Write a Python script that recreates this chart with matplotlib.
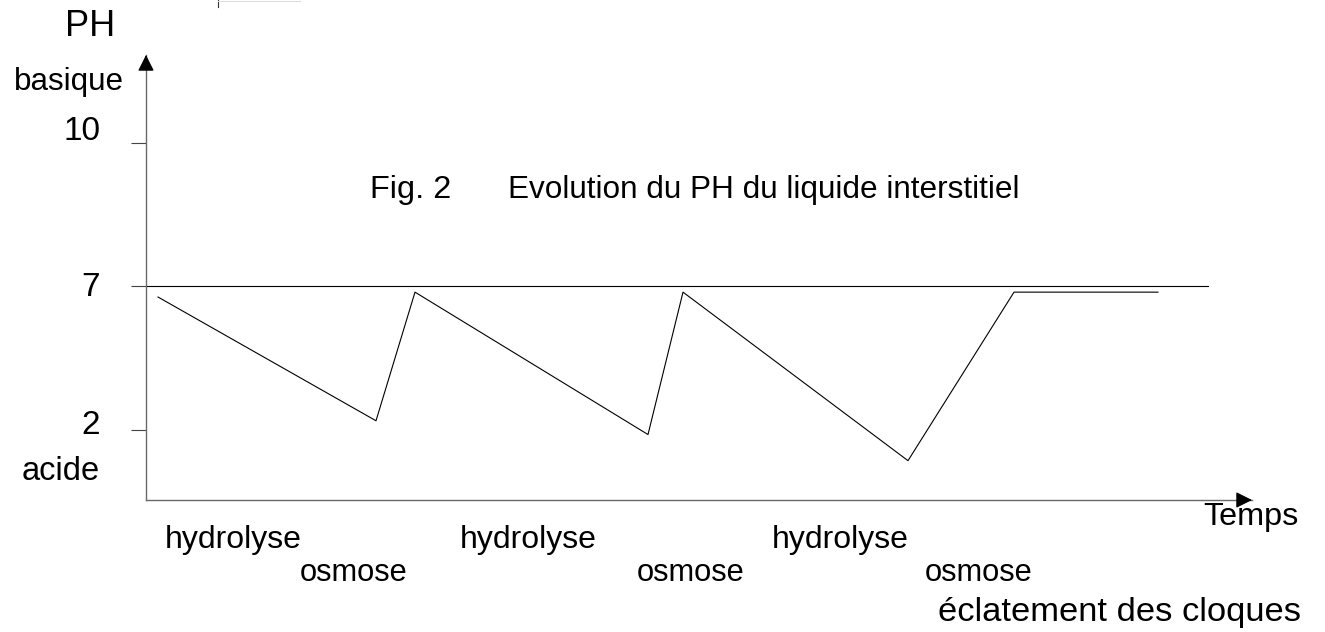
import numpy as np
import matplotlib.pyplot as plt
from matplotlib.lines import Line2D

# data (time in arbitrary units, pH values)
temps = [0.12, 2.30, 2.69, 5.02, 5.37, 7.62, 8.68, 10.12]
ph = [6.62, 2.31, 6.79, 1.83, 6.79, 0.92, 6.79, 6.79]
ph_ticks = [2, 7, 10]
ph_tick_labels = ['2', '7', '10']
phases = ['hydrolyse', 'osmose', 'hydrolyse', 'osmose', 'hydrolyse', 'osmose']
neutre = 7

W, H = 1325, 632
plt.rcParams['font.family'] = ['Liberation Sans', 'DejaVu Sans']

fig = plt.figure(figsize=(W / 100, H / 100), dpi=100)
ax = fig.add_axes([146 / W, (H - 500) / H, (1252 - 146) / W, (500 - 55) / H])


# the drawing stretches pH above 7 (10 sits as far from 7 as 2 does)
def fwd(v):
    return np.interp(v, [-50, 7, 10, 50], [-50, 7, 12, 12 + 40 * 5 / 3])


def inv(v):
    return np.interp(v, [-50, 7, 12, 12 + 40 * 5 / 3], [-50, 7, 10, 50])


ax.set_yscale('function', functions=(fwd, inv))
ax.set_xlim(0, 11.06)
ax.set_ylim(-0.45, 11.83)

for s in ax.spines.values():
    s.set_visible(False)
for side in ['left', 'bottom']:
    ax.spines[side].set_visible(True)
    ax.spines[side].set_color('#6a6a6a')
    ax.spines[side].set_linewidth(1.0)
ax.set_xticks([])
ax.set_yticks(ph_ticks)
ax.set_yticklabels([])
ax.tick_params(axis='y', length=11, width=0.8, color='#444444', direction='out')
ax.patch.set_alpha(0)

# arrow heads
ax.annotate('', xy=(0, 1.0), xytext=(0, 0.97), xycoords='axes fraction',
            arrowprops=dict(arrowstyle='-|>', color='black', lw=0.8,
                            mutation_scale=25, shrinkA=0, shrinkB=0))
ax.annotate('', xy=(1.0, 0), xytext=(0.99, 0), xycoords='axes fraction',
            arrowprops=dict(arrowstyle='-|>', color='black', lw=0.8,
                            mutation_scale=25, shrinkA=0, shrinkB=0))

# neutral line and pH curve
ax.plot([0, 10.62], [neutre, neutre], color='black', lw=0.8)
ax.plot(temps, ph, color='black', lw=0.8)


def t(x, y, s, ha='left', size=23):
    fig.text(x / W, 1 - y / H, s, fontsize=size, ha=ha, va='center')


# y tick labels
for lab, y in zip(ph_tick_labels, [425, 287, 132]):
    t(100, y, lab, ha='right', size=24)

t(90, 27, 'PH', ha='center', size=26)
t(14, 82, 'basique', size=22.6)
t(22, 471, 'acide', size=23.5)
t(1203, 517, 'Temps', size=23.3)
t(370, 190, 'Fig. 2', size=23.4)
t(508, 190, 'Evolution du PH du liquide interstitiel', size=22.7)

for x, y, lab in zip([165, 300, 460, 637, 772, 925],
                     [540, 573, 540, 573, 540, 573], phases):
    t(x, y, lab, size=23 if lab == 'hydrolyse' else 22.2)
t(938, 612, 'éclatement des cloques', size=24.8)

# small leftover mark at the top of the page
fig.add_artist(Line2D([218 / W, 218 / W], [1, 1 - 7 / H], color='#333333', lw=0.8))
fig.add_artist(Line2D([218 / W, 300 / W], [1 - 1 / H, 1 - 1 / H], color='#dddddd', lw=0.8))

fig.savefig('out.png', dpi=100)
